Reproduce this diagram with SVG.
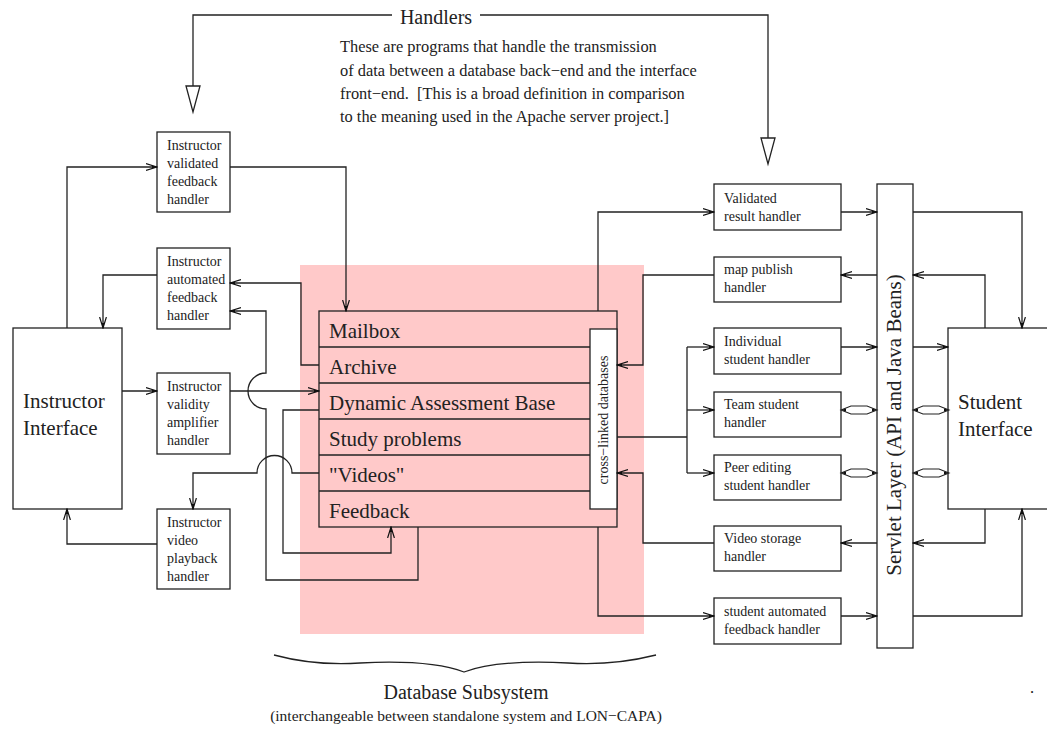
<svg xmlns="http://www.w3.org/2000/svg" width="1047" height="729" viewBox="0 0 1047 729">
  <style>
    .bx { fill: #fff; stroke: #222; stroke-width: 1.3; }
    .ln { fill: none; stroke: #222; stroke-width: 1.3; }
    .ar { fill: none; stroke: #222; stroke-width: 1.3; marker-end: url(#ah); }
    .t14 { font-family: "Liberation Serif", "Times New Roman", serif; font-size: 14px; fill: #222; }
    .t15 { font-family: "Liberation Serif", "Times New Roman", serif; font-size: 15.5px; fill: #222; }
    .t16 { font-family: "Liberation Serif", "Times New Roman", serif; font-size: 16.4px; fill: #222; }
    .t20 { font-family: "Liberation Serif", "Times New Roman", serif; font-size: 20px; fill: #222; }
    .t21 { font-family: "Liberation Serif", "Times New Roman", serif; font-size: 21px; fill: #222; }
    .hd { fill: #fff; stroke: #222; stroke-width: 1.3; }
  </style>
  <defs>
    <marker id="ah" viewBox="0 0 12 10" refX="11" refY="5" markerWidth="12" markerHeight="10" markerUnits="userSpaceOnUse" orient="auto-start-reverse">
      <path d="M0,1.6 L11,5 L0,8.4" fill="none" stroke="#111" stroke-width="1.2"/>
      <path d="M6,3.5 L11,5 L6,6.5 Z" fill="#111"/>
    </marker>
    <!-- two-way link drawn as a lens: heads at both ends, double shaft -->
    <g id="lens">
      <path d="M0,0 L10,-4 H26 L36,0 L26,4 H10 Z" fill="#fff" stroke="#222" stroke-width="1.1"/>
      <path d="M0,0 L5,-1.6 V1.6 Z M36,0 L31,-1.6 V1.6 Z" fill="#111"/>
    </g>
  </defs>

  <rect width="1047" height="729" fill="#fff"/>

  <!-- database subsystem backdrop -->
  <rect id="db-backdrop" x="300" y="265" width="344" height="369" fill="#ffc9c9"/>

  <!-- handler legend -->
  <g id="handlers-legend">
    <path class="ln" d="M392,15 H193 V86"/>
    <polygon class="hd" points="186,86 200,86 193,112"/>
    <path class="ln" d="M480,15 H768 V138"/>
    <polygon class="hd" points="761,138 775,138 768,164"/>
    <text class="t20" x="436" y="24" text-anchor="middle">Handlers</text>
    <text class="t16" x="340" y="52">These are programs that handle the transmission</text>
    <text class="t16" x="340" y="76">of data between a database back−end and the interface</text>
    <text class="t16" x="340" y="99">front−end. &#160;[This is a broad definition in comparison</text>
    <text class="t16" x="340" y="122">to the meaning used in the Apache server project.]</text>
  </g>

  <!-- instructor side -->
  <g id="instructor-interface">
    <rect class="bx" x="13" y="328" width="109" height="181"/>
    <text class="t21" x="23" y="408">Instructor</text>
    <text class="t21" x="23" y="435">Interface</text>
  </g>
  <g id="instr-validated-feedback">
    <rect class="bx" x="157" y="132" width="73" height="80"/>
    <text class="t14" x="167" y="150">Instructor</text>
    <text class="t14" x="167" y="168">validated</text>
    <text class="t14" x="167" y="186">feedback</text>
    <text class="t14" x="167" y="204">handler</text>
  </g>
  <g id="instr-automated-feedback">
    <rect class="bx" x="157" y="248" width="73" height="81"/>
    <text class="t14" x="167" y="266">Instructor</text>
    <text class="t14" x="167" y="284">automated</text>
    <text class="t14" x="167" y="302">feedback</text>
    <text class="t14" x="167" y="320">handler</text>
  </g>
  <g id="instr-validity-amplifier">
    <rect class="bx" x="157" y="373" width="73" height="81"/>
    <text class="t14" x="167" y="391">Instructor</text>
    <text class="t14" x="167" y="409">validity</text>
    <text class="t14" x="167" y="427">amplifier</text>
    <text class="t14" x="167" y="445">handler</text>
  </g>
  <g id="instr-video-playback">
    <rect class="bx" x="157" y="509" width="73" height="80"/>
    <text class="t14" x="167" y="527">Instructor</text>
    <text class="t14" x="167" y="545">video</text>
    <text class="t14" x="167" y="563">playback</text>
    <text class="t14" x="167" y="581">handler</text>
  </g>

  <!-- database stack -->
  <g id="database">
    <rect x="319" y="311" width="298" height="216" fill="none" stroke="#222" stroke-width="1.3"/>
    <path class="ln" d="M319,347 H590 M319,383 H590 M319,419 H590 M319,455 H590 M319,491 H590"/>
    <text class="t21" x="329" y="338">Mailbox</text>
    <text class="t21" x="329" y="374">Archive</text>
    <text class="t21" x="329" y="410">Dynamic Assessment Base</text>
    <text class="t21" x="329" y="446">Study problems</text>
    <text class="t21" x="329" y="482">"Videos"</text>
    <text class="t21" x="329" y="518">Feedback</text>
  </g>
  <g id="cross-linked">
    <rect class="bx" x="590" y="329" width="27" height="180"/>
    <text class="t14" transform="translate(608,420) rotate(-90)" text-anchor="middle">cross−linked databases</text>
  </g>

  <!-- student side -->
  <g id="validated-result">
    <rect class="bx" x="714" y="184" width="127" height="46"/>
    <text class="t14" x="724" y="203">Validated</text>
    <text class="t14" x="724" y="221">result handler</text>
  </g>
  <g id="map-publish">
    <rect class="bx" x="714" y="257" width="127" height="45"/>
    <text class="t14" x="724" y="274">map publish</text>
    <text class="t14" x="724" y="292">handler</text>
  </g>
  <g id="individual-student">
    <rect class="bx" x="714" y="328" width="127" height="46"/>
    <text class="t14" x="724" y="346">Individual</text>
    <text class="t14" x="724" y="364">student handler</text>
  </g>
  <g id="team-student">
    <rect class="bx" x="714" y="392" width="127" height="45"/>
    <text class="t14" x="724" y="409">Team student</text>
    <text class="t14" x="724" y="427">handler</text>
  </g>
  <g id="peer-editing">
    <rect class="bx" x="714" y="455" width="127" height="45"/>
    <text class="t14" x="724" y="472">Peer editing</text>
    <text class="t14" x="724" y="490">student handler</text>
  </g>
  <g id="video-storage">
    <rect class="bx" x="714" y="526" width="127" height="45"/>
    <text class="t14" x="724" y="543">Video storage</text>
    <text class="t14" x="724" y="561">handler</text>
  </g>
  <g id="student-automated-feedback">
    <rect class="bx" x="714" y="598" width="127" height="46"/>
    <text class="t14" x="724" y="616">student automated</text>
    <text class="t14" x="724" y="634">feedback handler</text>
  </g>
  <g id="servlet-layer">
    <rect class="bx" x="877" y="184" width="36" height="464"/>
    <text class="t21" transform="translate(901,425) rotate(-90)" text-anchor="middle">Servlet Layer (API and Java Beans)</text>
  </g>
  <g id="student-interface">
    <rect class="bx" x="948" y="328" width="110" height="181"/>
    <text class="t21" x="958" y="409">Student</text>
    <text class="t21" x="958" y="436">Interface</text>
  </g>

  <!-- connectors -->
  <g id="connectors">
    <!-- instructor side -->
    <path class="ar" d="M67,328 V167 H157"/>
    <path class="ar" d="M230,167 H346 V311"/>
    <path class="ar" d="M157,275 H103 V328"/>
    <path class="ar" d="M319,365 H301 V283 H230"/>
    <path class="ar" d="M418,527 V580 H266 V409 A18,18 0 0 1 266,373 V311 H230"/>
    <path class="ar" d="M122,391 H157"/>
    <path class="ar" d="M230,391 H319"/>
    <path class="ar" d="M319,410 H283 V553 H391 V527"/>
    <path class="ar" d="M319,473 H292 A17.5,17.5 0 0 0 257,473 H193 V509"/>
    <path class="ar" d="M157,544 H67 V509"/>
    <!-- student side -->
    <path class="ar" d="M598,311 V212 H714"/>
    <path class="ar" d="M841,212 H877"/>
    <path class="ar" d="M913,212 H1022 V328"/>
    <path class="ar" d="M985,328 V275 H913"/>
    <path class="ar" d="M877,275 H841"/>
    <path class="ar" d="M714,275 H643 V365 H617"/>
    <path class="ln" d="M617,437 H687 M687,347 V473"/>
    <path class="ar" d="M687,347 H714"/>
    <path class="ar" d="M687,410 H714"/>
    <path class="ar" d="M687,473 H714"/>
    <path class="ar" d="M841,347 H877"/>
    <path class="ar" d="M913,347 H948"/>
    <use href="#lens" x="841" y="410"/>
    <use href="#lens" x="913" y="410"/>
    <use href="#lens" x="841" y="473"/>
    <use href="#lens" x="913" y="473"/>
    <path class="ar" d="M877,543 H841"/>
    <path class="ar" d="M985,509 V543 H913"/>
    <path class="ar" d="M714,543 H643 V473 H617"/>
    <path class="ar" d="M598,527 V616 H714"/>
    <path class="ar" d="M841,616 H877"/>
    <path class="ar" d="M913,616 H1022 V509"/>
  </g>

  <!-- subsystem caption -->
  <g id="subsystem-caption">
    <path class="ln" d="M274,655 C300,662 330,665 360,663 C400,661 440,663 464,672 C488,663 528,661 568,663 C598,665 628,662 656,655"/>
    <text class="t20" x="466" y="699" text-anchor="middle">Database Subsystem</text>
    <text class="t15" x="466" y="721" text-anchor="middle">(interchangeable between standalone system and LON−CAPA)</text>
    <text class="t16" x="1030" y="693">.</text>
  </g>
</svg>
